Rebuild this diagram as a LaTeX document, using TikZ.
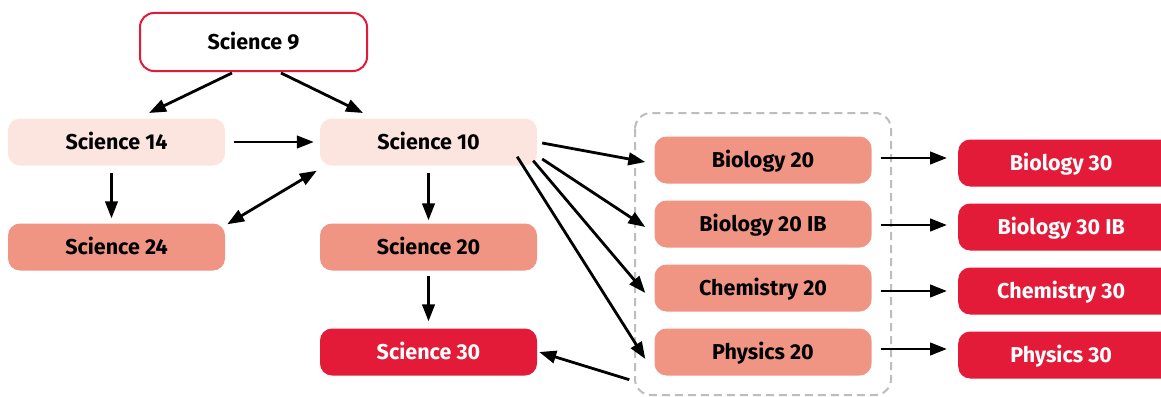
\documentclass[tikz,border=0pt]{standalone}
\usepackage{fontspec}
\setmainfont{Fira Sans}
\usetikzlibrary{arrows.meta}
\definecolor{palepink}{HTML}{FCE4DF}
\definecolor{salmon}{HTML}{F09484}
\definecolor{crimson}{HTML}{E31A38}
\definecolor{dashgray}{HTML}{BDBDBD}
\begin{document}
\begin{tikzpicture}[x=1pt,y=-1pt,
  course/.style={rounded corners=12pt,minimum width=217pt,minimum height=47pt,
    inner sep=0pt,text height=15pt,text depth=0pt,
    font=\fontsize{21.5}{24}\selectfont\bfseries,text=black},
  level1/.style={course,fill=palepink},
  level2/.style={course,fill=salmon},
  level3/.style={course,fill=crimson,text=white},
  tip/.style={Triangle[length=17pt,width=12.5pt]},
  link/.style={line width=2.8pt,-{Triangle[length=17pt,width=12.5pt]}},
  twoway/.style={line width=2.8pt,{Triangle[length=17pt,width=12.5pt]}-{Triangle[length=17pt,width=12.5pt]}}]
\useasboundingbox (0,0) rectangle (1161,396);
\clip (0,0) rectangle (1161,396);

% grouping frame for the grade 11 options
\draw[dashgray,line width=2pt,dash pattern=on 8pt off 5pt,rounded corners=16pt]
  (635,113) rectangle (891,395);

% entry course
\node[course,draw=crimson,line width=2pt,fill=white,minimum width=227pt,
  minimum height=58pt,rounded corners=14pt] (s9) at (253.5,42) {Science 9};

% science stream
\node[level1] (s14) at (116.5,142) {Science 14};
\node[level1] (s10) at (428.5,142) {Science 10};
\node[level2] (s24) at (116.5,247) {Science 24};
\node[level2] (s20) at (428.5,247) {Science 20};
\node[level3] (s30) at (428.5,352) {Science 30};

% grade 11 options
\node[level2] (b20)  at (763,160) {Biology 20};
\node[level2] (b20ib) at (763,224) {Biology 20 IB};
\node[level2] (c20)  at (763,288) {Chemistry 20};
\node[level2] (p20)  at (763,352) {Physics 20};

% grade 12 courses
\node[level3,minimum width=240pt,anchor=west] (b30)  at (958,163) {\hspace*{-34pt}Biology 30};
\node[level3,minimum width=240pt,anchor=west] (b30ib) at (958,227) {\hspace*{-34pt}Biology 30 IB};
\node[level3,minimum width=240pt,anchor=west] (c30)  at (958,291) {\hspace*{-34pt}Chemistry 30};
\node[level3,minimum width=240pt,anchor=west] (p30)  at (958,355) {\hspace*{-34pt}Physics 30};

% connectors
\coordinate (s9a) at (232,73);
\coordinate (s9b) at (281,73);
\draw[link] (s9a) -- (149,113);
\draw[link] (s9b) -- (363,113);
\draw[link] ([xshift=9pt]s14.east) -- ([xshift=-6pt]s10.west);
\draw[link] ([xshift=-5pt,yshift=-7pt]s14.south) -- ([xshift=-5pt,yshift=5pt]s24.north);
\draw[twoway] ([xshift=2pt,yshift=-1pt]s24.north east) -- ([xshift=-3pt,yshift=-5pt]s10.south west);
\draw[link] ([yshift=-7pt]s10.south) -- ([yshift=3pt]s20.north);
\draw[link] ([yshift=-5pt]s20.south) -- ([yshift=7pt]s30.north);

\draw[link] ([xshift=5pt,yshift=-1pt]s10.east) -- ([xshift=-9pt,yshift=-2pt]b20.west);
\draw[link] ([xshift=5pt,yshift=-17pt]s10.east) -- ([xshift=-9pt,yshift=-3pt]b20ib.west);
\draw[link] ([xshift=-4pt,yshift=5pt]s10.south east) -- ([xshift=-9pt,yshift=-5pt]c20.west);
\draw[link] ([xshift=-20pt,yshift=9pt]s10.south east) -- ([xshift=-9pt,yshift=-7pt]p20.west);
\draw[link] ([xshift=-25pt,yshift=-4pt]p20.south west) -- ([xshift=2pt]s30.east);

\draw[link] ([xshift=9pt,yshift=2pt]b20.east) -- ([xshift=-11pt,yshift=2pt]b30.west |- b20.east);
\draw[link] ([xshift=9pt,yshift=-1pt]b20ib.east) -- ([xshift=-11pt,yshift=-1pt]b30ib.west |- b20ib.east);
\draw[link] ([xshift=9pt,yshift=-3pt]c20.east) -- ([xshift=-11pt,yshift=-3pt]c30.west |- c20.east);
\draw[link] ([xshift=9pt,yshift=3pt]p20.east) -- ([xshift=-11pt,yshift=3pt]p30.west |- p20.east);
\end{tikzpicture}
\end{document}
